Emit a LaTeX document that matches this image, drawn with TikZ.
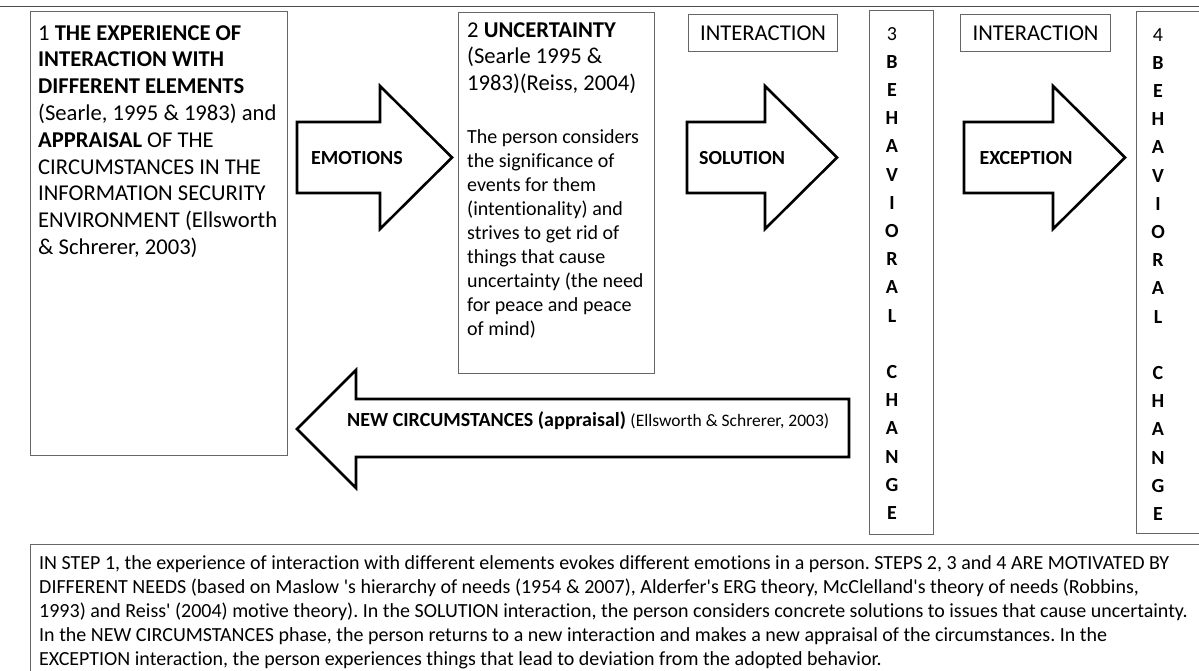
\documentclass[tikz,border=0pt]{standalone}
\usepackage{fontspec}
\setmainfont{Carlito}[Ligatures={TeXOff,NoCommon}]
\frenchspacing
\begin{document}
\begin{tikzpicture}[x=1pt,y=-1pt,
  box/.style={draw=black!60, line width=1.2pt, inner sep=0pt, anchor=north west},
  barrow/.style={draw=black, line width=2.6pt, fill=white, line join=miter},
  big/.style={font=\fontsize{22.6}{26.8}\selectfont, inner sep=0pt, align=left, anchor=north west},
  small/.style={font=\fontsize{20}{24}\selectfont, inner sep=0pt, align=left, anchor=north west},
  lab/.style={font=\fontsize{20}{24}\selectfont\bfseries, inner sep=0pt},
  vert/.style={font=\fontsize{20}{28.2}\selectfont\bfseries, inner sep=0pt, align=center, anchor=north},
  ibox/.style={draw=black!60, line width=1.2pt, font=\fontsize{22.6}{26.8}\selectfont, minimum width=150pt, minimum height=37pt, inner sep=0pt, anchor=north west}
]
\useasboundingbox (0,0) rectangle (1199,670);
% top rule
\draw[black!70, line width=1pt] (0,6) -- (1199,6);

% box 1
\node[box, minimum width=257pt, minimum height=444pt] (b1) at (30,11) {};
\node[big] (t1) at (38,25) {1 \textbf{THE EXPERIENCE OF}\\
\textbf{INTERACTION WITH}\\
\textbf{DIFFERENT ELEMENTS}\\
(Searle, 1995 \& 1983) and\\
\textbf{APPRAISAL} OF THE\\
CIRCUMSTANCES IN THE\\
INFORMATION SECURITY\\
ENVIRONMENT (Ellsworth\\
\& Schrerer, 2003)};

% box 2
\node[box, minimum width=196pt, minimum height=361pt] (b2) at (458,12) {};
\node[big] (t2) at (467,22) {2 \textbf{UNCERTAINTY}\\
(Searle 1995 \&\\
1983)(Reiss, 2004)};
\node[small] (t2b) at (467,129) {The person considers\\
the significance of\\
events for them\\
(intentionality) and\\
strives to get rid of\\
things that cause\\
uncertainty (the need\\
for peace and peace\\
of mind)};

% interaction boxes
\node[ibox, minimum width=149pt] (i1) at (688,14) {INTERACTION};
\node[ibox, minimum width=150pt] (i2) at (960,14) {INTERACTION};

% box 3 and 4
\node[box, minimum width=64pt, minimum height=524pt] (b3) at (869,10) {};
\node[vert] (t3) at (892,27) {{\mdseries 3}\\B\\E\\H\\A\\V\\I\\O\\R\\A\\L\\ \\C\\H\\A\\N\\G\\E};
\node[box, minimum width=70pt, minimum height=522pt] (b4) at (1136,11) {};
\node[vert] (t4) at (1158,28) {{\mdseries 4}\\B\\E\\H\\A\\V\\I\\O\\R\\A\\L\\ \\C\\H\\A\\N\\G\\E};

% block arrows
\draw[barrow] (297,122) -- (380,122) -- (380,86) -- (452,157.5) -- (380,229) -- (380,193) -- (297,193) -- cycle;
\node[lab] (l1) at (357,158) {EMOTIONS};
\draw[barrow] (687,122) -- (765,122) -- (765,86) -- (837,157.5) -- (765,229) -- (765,193) -- (687,193) -- cycle;
\node[lab] (l2) at (742,158) {SOLUTION};
\draw[barrow] (964,122) -- (1053,122) -- (1053,86) -- (1125,157.5) -- (1053,229) -- (1053,193) -- (964,193) -- cycle;
\node[lab] (l3) at (1026,158) {EXCEPTION};
\draw[barrow] (849,399) -- (356,399) -- (356,370) -- (297,429) -- (356,488) -- (356,457) -- (849,457) -- cycle;
\node[lab, anchor=west] (l4) at (347,421) {NEW CIRCUMSTANCES (appraisal) {\mdseries\fontsize{17.5}{20}\selectfont (Ellsworth \& Schrerer, 2003)}};

% bottom box
\node[box, minimum width=1175pt, minimum height=140pt] (b5) at (30,544) {};
\node[small, font=\fontsize{20}{24}\selectfont] (t5) at (39,555) {IN STEP 1, the experience of interaction with different elements evokes different emotions in a person. STEPS 2, 3 and 4 ARE MOTIVATED BY\\
DIFFERENT NEEDS (based on Maslow 's hierarchy of needs (1954 \& 2007), Alderfer's ERG theory, McClelland's theory of needs (Robbins,\\
1993) and Reiss' (2004) motive theory). In the SOLUTION interaction, the person considers concrete solutions to issues that cause uncertainty.\\
In the NEW CIRCUMSTANCES phase, the person returns to a new interaction and makes a new appraisal of the circumstances. In the\\
EXCEPTION interaction, the person experiences things that lead to deviation from the adopted behavior.};
\end{tikzpicture}
\end{document}
